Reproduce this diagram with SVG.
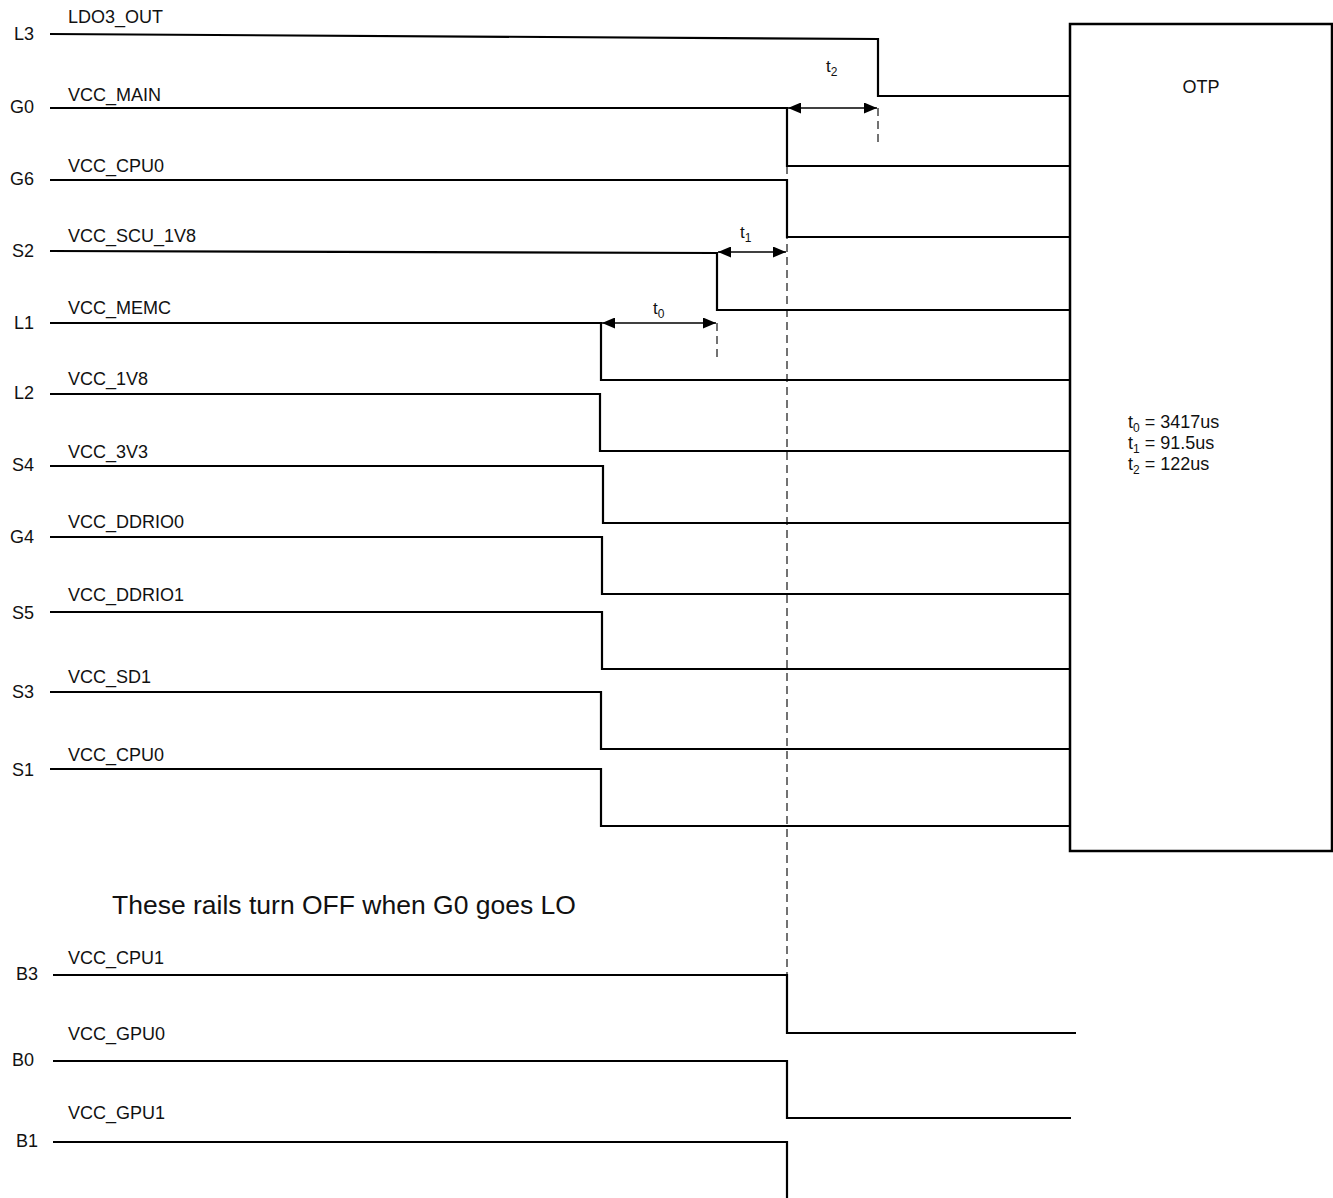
<svg xmlns="http://www.w3.org/2000/svg" width="1333" height="1198" viewBox="0 0 1333 1198">
<style>
text{font-family:"Liberation Sans",Arial,sans-serif;fill:#111}
.pin{font-size:18px;text-anchor:end}
.nm{font-size:18px}
.sig{fill:none;stroke:#000;stroke-width:2.2}
.dash{fill:none;stroke:#444;stroke-width:1.5;stroke-dasharray:8 5}
.dim{fill:none;stroke:#000;stroke-width:1.3}
.sm{font-size:17px}
.sub{font-size:12px}
.val{font-size:18px}
</style>
<defs>
<marker id="ah" viewBox="0 0 13 11" refX="13" refY="5.5" markerWidth="13" markerHeight="11" markerUnits="userSpaceOnUse" orient="auto-start-reverse">
<path d="M0,0 L13,5.5 L0,11 Z" fill="#000"/>
</marker>
</defs>
<rect fill="#fff" width="1333" height="1198"/>
<g id="otp">
<rect x="1070" y="24" width="262" height="827" fill="#fff" stroke="#000" stroke-width="2.5"/>
<text x="1201" y="93" font-size="18" text-anchor="middle">OTP</text>
<text class="val" x="1128" y="428">t<tspan class="sub" dy="4">0</tspan><tspan dy="-4"> = 3417us</tspan></text>
<text class="val" x="1128" y="449">t<tspan class="sub" dy="4">1</tspan><tspan dy="-4"> = 91.5us</tspan></text>
<text class="val" x="1128" y="470">t<tspan class="sub" dy="4">2</tspan><tspan dy="-4"> = 122us</tspan></text>
</g>
<g id="labels">
<text class="pin" x="34" y="40">L3</text><text class="nm" x="68" y="23">LDO3_OUT</text>
<text class="pin" x="34" y="113">G0</text><text class="nm" x="68" y="101">VCC_MAIN</text>
<text class="pin" x="34" y="185">G6</text><text class="nm" x="68" y="172">VCC_CPU0</text>
<text class="pin" x="34" y="257">S2</text><text class="nm" x="68" y="242">VCC_SCU_1V8</text>
<text class="pin" x="34" y="329">L1</text><text class="nm" x="68" y="314">VCC_MEMC</text>
<text class="pin" x="34" y="399">L2</text><text class="nm" x="68" y="385">VCC_1V8</text>
<text class="pin" x="34" y="471">S4</text><text class="nm" x="68" y="458">VCC_3V3</text>
<text class="pin" x="34" y="543">G4</text><text class="nm" x="68" y="528">VCC_DDRIO0</text>
<text class="pin" x="34" y="619">S5</text><text class="nm" x="68" y="601">VCC_DDRIO1</text>
<text class="pin" x="34" y="698">S3</text><text class="nm" x="68" y="683">VCC_SD1</text>
<text class="pin" x="34" y="776">S1</text><text class="nm" x="68" y="761">VCC_CPU0</text>
<text x="112" y="914" font-size="26.5">These rails turn OFF when G0 goes LO</text>
<text class="pin" x="38" y="980">B3</text><text class="nm" x="68" y="964">VCC_CPU1</text>
<text class="pin" x="34" y="1066">B0</text><text class="nm" x="68" y="1040">VCC_GPU0</text>
<text class="pin" x="38" y="1147">B1</text><text class="nm" x="68" y="1119">VCC_GPU1</text>
</g>
<g id="connectors">
<line class="dash" x1="787" y1="166" x2="787" y2="975"/>
<line class="dash" x1="878" y1="108" x2="878" y2="146"/>
<line class="dash" x1="717" y1="323" x2="717" y2="362"/>
<polyline class="sig" points="50,34 878,39 878,96 1070,96"/>
<polyline class="sig" points="50,108 787,108 787,166 1070,166"/>
<polyline class="sig" points="50,180 787,180 787,237 1070,237"/>
<polyline class="sig" points="50,251 717,253 717,310 1070,310"/>
<polyline class="sig" points="50,323 601,323 601,380 1070,380"/>
<polyline class="sig" points="50,394 600,394 600,451 1070,451"/>
<polyline class="sig" points="50,466 603,466 603,523 1070,523"/>
<polyline class="sig" points="50,537 602,537 602,594 1070,594"/>
<polyline class="sig" points="50,612 602,612 602,669 1070,669"/>
<polyline class="sig" points="50,692 601,692 601,749 1070,749"/>
<polyline class="sig" points="50,769 601,769 601,826 1070,826"/>
<polyline class="sig" points="53,975 787,975 787,1033 1076,1033"/>
<polyline class="sig" points="53,1061 787,1061 787,1118 1071,1118"/>
<polyline class="sig" points="53,1142 787,1142 787,1198"/>
<line class="dim" x1="788" y1="108" x2="877" y2="108" marker-start="url(#ah)" marker-end="url(#ah)"/>
<line class="dim" x1="718" y1="252" x2="786" y2="252" marker-start="url(#ah)" marker-end="url(#ah)"/>
<line class="dim" x1="602" y1="323" x2="716" y2="323" marker-start="url(#ah)" marker-end="url(#ah)"/>
<text class="sm" x="826" y="72">t<tspan class="sub" dy="4">2</tspan></text>
<text class="sm" x="740" y="238">t<tspan class="sub" dy="4">1</tspan></text>
<text class="sm" x="653" y="314">t<tspan class="sub" dy="4">0</tspan></text>
</g>
</svg>
